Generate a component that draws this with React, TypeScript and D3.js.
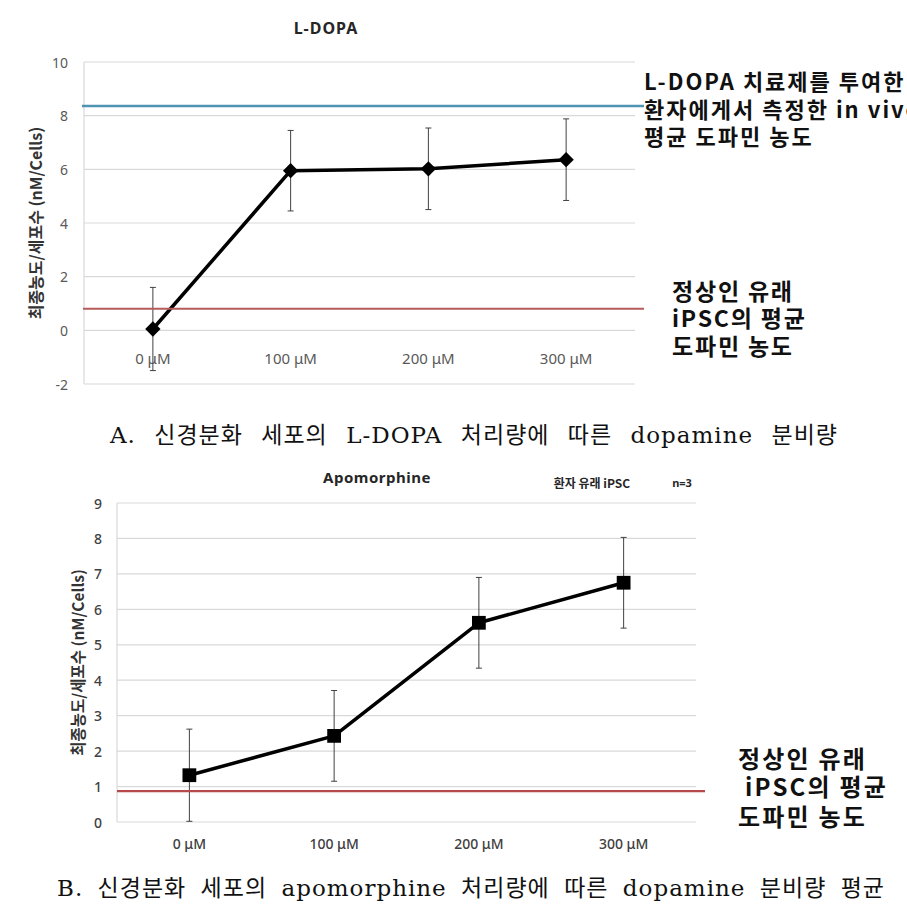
import React, { useLayoutEffect, useRef, useState } from "react";
import * as d3 from "d3";

const categories = ["0 μM", "100 μM", "200 μM", "300 μM"];
const ldopaMeans = [0.05, 5.95, 6.02, 6.36];
const ldopaErrors = [1.55, 1.5, 1.52, 1.52];
const apoMeans = [1.32, 2.43, 5.62, 6.75];
const apoErrors = [1.3, 1.28, 1.28, 1.28];
const ldopaTicks = [-2, 0, 2, 4, 6, 8, 10];
const apoTicks = [0, 1, 2, 3, 4, 5, 6, 7, 8, 9];
const ldopaInVivo = 8.36;
const ldopaNormal = 0.8;
const apoNormal = 0.87;
const yLabel = "최종농도/세포수 (nM/Cells)";
const captionA = "A. 신경분화 세포의 L-DOPA 처리량에 따른 dopamine 분비량";
const captionB = "B. 신경분화 세포의 apomorphine 처리량에 따른 dopamine 분비량 평균";

const SANS = "'Noto Sans', 'Noto Sans CJK KR', sans-serif";
const KR = "'Noto Sans CJK KR', 'Noto Sans', sans-serif";
const SERIF = "'DejaVu Serif', 'Liberation Serif', 'Noto Sans CJK KR', serif";

type PanelProps = {
  means: number[];
  errors: number[];
  ticks: number[];
  domain: [number, number];
  top: number;
  bottom: number;
  left: number;
  right: number;
  marker: "diamond" | "square";
  tickFont: number;
  tickX: number;
  catY: number;
  catFont: number;
  labelX: number;
  labelFont: number;
  textColor: string;
  textWeight: number;
};

function Panel(p: PanelProps) {
  const y = d3.scaleLinear().domain(p.domain).range([p.bottom, p.top]);
  const x = d3.scaleBand<string>().domain(categories).range([p.left, p.right]);
  const cx = (c: string) => (x(c) as number) + x.bandwidth() / 2;
  const line = d3
    .line<number>()
    .x((_, i) => cx(categories[i]))
    .y((d) => y(d));
  const sym = d3
    .symbol()
    .type(p.marker === "diamond" ? d3.symbolDiamond2 : d3.symbolSquare)
    .size(p.marker === "diamond" ? 150 : 190)();
  return (
    <g>
      <line x1={p.left} x2={p.left} y1={p.top} y2={p.bottom} stroke="#d9d9d9" strokeWidth={1.2} />
      {p.ticks.map((t) => (
        <g key={t}>
          <line x1={p.left} x2={p.right} y1={y(t)} y2={y(t)} stroke="#d9d9d9" strokeWidth={1.2} />
          <text
            x={p.tickX}
            y={y(t)}
            textAnchor="end"
            dominantBaseline="central"
            fontSize={p.tickFont}
            fill={p.textColor}
            fontWeight={p.textWeight}
            fontFamily={SANS}
          >
            {t}
          </text>
        </g>
      ))}
      {categories.map((c) => (
        <text
          key={c}
          x={cx(c)}
          y={p.catY}
          textAnchor="middle"
          dominantBaseline="central"
          fontSize={p.catFont}
          fill={p.textColor}
          fontWeight={p.textWeight}
          fontFamily={SANS}
        >
          {c}
        </text>
      ))}
      <text
        transform={`translate(${p.labelX},${(p.top + p.bottom) / 2}) rotate(-90)`}
        textAnchor="middle"
        dominantBaseline="central"
        fontSize={p.labelFont}
        fontWeight="bold"
        fill="#333"
        fontFamily={KR}
      >
        {yLabel}
      </text>
      {p.means.map((m, i) => {
        const xc = cx(categories[i]);
        const e = p.errors[i];
        return (
          <g key={i} stroke="#404040" strokeWidth={1}>
            <line x1={xc} x2={xc} y1={y(m - e)} y2={y(m + e)} />
            <line x1={xc - 3} x2={xc + 3} y1={y(m - e)} y2={y(m - e)} />
            <line x1={xc - 3} x2={xc + 3} y1={y(m + e)} y2={y(m + e)} />
          </g>
        );
      })}
      <path d={line(p.means) || ""} fill="none" stroke="#000" strokeWidth={3.5} strokeLinejoin="round" />
      {p.means.map((m, i) => (
        <path key={i} d={sym || ""} transform={`translate(${cx(categories[i])},${y(m)})`} fill="#000" />
      ))}
    </g>
  );
}

function Caption({ text, x, y, width }: { text: string; x: number; y: number; width: number }) {
  const ref = useRef<SVGTextElement>(null);
  const [ws, setWs] = useState(0);
  useLayoutEffect(() => {
    const el = ref.current;
    if (!el) return;
    const natural = el.getComputedTextLength();
    const spaces = text.split(" ").length - 1;
    if (spaces > 0) setWs(Math.max(0, (width - natural) / spaces));
  }, [text, width]);
  return (
    <text
      ref={ref}
      x={x}
      y={y}
      dominantBaseline="central"
      fontSize={23}
      letterSpacing={1}
      fill="#111"
      fontFamily={SERIF}
      style={{ wordSpacing: `${ws}px`, whiteSpace: "pre" }}
    >
      {text}
    </text>
  );
}

export default function App() {
  const yA = d3.scaleLinear().domain([-2, 10]).range([384, 62]);
  const yB = d3.scaleLinear().domain([0, 9]).range([822, 503]);
  return (
    <svg
      width={907}
      height={910}
      style={{ position: "absolute", left: 0, top: 0, background: "#fff" }}
    >
      <rect width={907} height={910} fill="#fff" />
      {/* Chart A */}
      <text x={326} y={28} textAnchor="middle" dominantBaseline="central" fontSize={16} letterSpacing={1} fontWeight="bold" fill="#262626" fontFamily={SANS}>
        L-DOPA
      </text>
      <Panel
        means={ldopaMeans}
        errors={ldopaErrors}
        ticks={ldopaTicks}
        domain={[-2, 10]}
        top={62}
        bottom={384}
        left={84}
        right={635}
        marker="diamond"
        tickFont={14}
        tickX={68}
        catY={358}
        catFont={15}
        labelX={35}
        labelFont={16}
        textColor="#595959"
        textWeight={400}
      />
      <line x1={82} x2={644} y1={yA(ldopaInVivo)} y2={yA(ldopaInVivo)} stroke="#4f95b3" strokeWidth={2.5} />
      <line x1={83} x2={644} y1={yA(ldopaNormal)} y2={yA(ldopaNormal)} stroke="#b65a5a" strokeWidth={2} />
      <text fontSize={22} letterSpacing={2} fill="#111" fontFamily={KR} fontWeight={600}>
        <tspan x={644} y={80} dominantBaseline="central">
          <tspan fontWeight="bold">L-DOPA</tspan> 치료제를 투여한
        </tspan>
        <tspan x={644} y={108} dominantBaseline="central">
          환자에게서 측정한 <tspan fontWeight="bold">in vivo</tspan>
        </tspan>
        <tspan x={644} y={135} dominantBaseline="central">
          평균 도파민 농도
        </tspan>
      </text>
      <text fontSize={23} letterSpacing={1.8} fill="#111" fontFamily={KR} fontWeight={600}>
        <tspan x={672} y={290} dominantBaseline="central">정상인 유래</tspan>
        <tspan x={672} y={317} dominantBaseline="central">iPSC의 평균</tspan>
        <tspan x={672} y={345} dominantBaseline="central">도파민 농도</tspan>
      </text>
      <Caption text={captionA} x={110} y={435} width={728} />

      {/* Chart B */}
      <text x={377} y={477} textAnchor="middle" dominantBaseline="central" fontSize={15} letterSpacing={0.5} fontWeight="bold" fill="#262626" fontFamily={SANS}>
        Apomorphine
      </text>
      <text x={592} y={482} textAnchor="middle" dominantBaseline="central" fontSize={12} fontWeight="bold" fill="#262626" fontFamily={KR}>
        환자 유래 iPSC
      </text>
      <text x={682} y={482} textAnchor="middle" dominantBaseline="central" fontSize={11} fontWeight="bold" fill="#262626" fontFamily={SANS}>
        n=3
      </text>
      <Panel
        means={apoMeans}
        errors={apoErrors}
        ticks={apoTicks}
        domain={[0, 9]}
        top={503}
        bottom={822}
        left={117}
        right={696}
        marker="square"
        tickFont={14}
        tickX={102}
        catY={843}
        catFont={14}
        labelX={77}
        labelFont={15.5}
        textColor="#404040"
        textWeight={500}
      />
      <line x1={117} x2={705} y1={yB(apoNormal)} y2={yB(apoNormal)} stroke="#b64a4a" strokeWidth={2.2} />
      <text fontSize={24} letterSpacing={2.2} fill="#111" fontFamily={KR} fontWeight={600}>
        <tspan x={738} y={757} dominantBaseline="central">정상인 유래</tspan>
        <tspan x={745} y={785} dominantBaseline="central">iPSC의 평균</tspan>
        <tspan x={738} y={815} dominantBaseline="central">도파민 농도</tspan>
      </text>
      <Caption text={captionB} x={57} y={888} width={828} />
    </svg>
  );
}
